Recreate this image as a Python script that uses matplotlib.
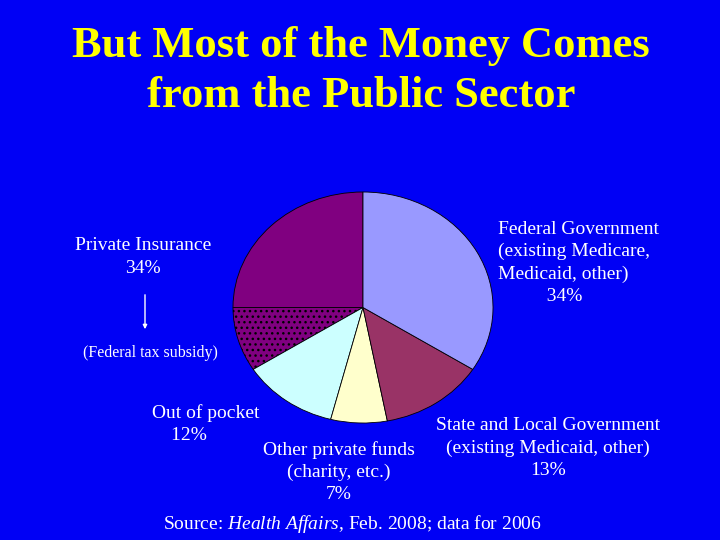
import matplotlib
matplotlib.use('Agg')
import matplotlib.pyplot as plt

# Slices, counterclockwise from 12 o'clock
slice_names = ['Private insurance', 'Federal tax subsidy', 'Out of pocket',
               'Other private funds', 'State and Local', 'Federal']
slice_values = [25, 9, 12, 7, 13, 34]
slice_colors = ['#800080', '#800080', '#CCFFFF', '#FFFFCC', '#993366', '#9999FF']
slice_hatches = ['', '...', '', '', '', '']

W, H = 720, 540
bg = '#0000F5'
fig = plt.figure(figsize=(7.2, 5.4), dpi=100, facecolor=bg)
plt.rcParams['font.family'] = ['Liberation Serif', 'DejaVu Serif']
plt.rcParams['mathtext.fontset'] = 'custom'
plt.rcParams['mathtext.it'] = 'Liberation Serif:italic'
plt.rcParams['mathtext.rm'] = 'Liberation Serif'
plt.rcParams['hatch.color'] = '#DDDDDD'
plt.rcParams['hatch.linewidth'] = 1.0

ax = fig.add_axes([233 / W, (H - 423) / H, 260 / W, 231 / H])
wedges, _ = ax.pie(slice_values, colors=slice_colors, startangle=90, counterclock=True,
                   wedgeprops=dict(edgecolor='black', linewidth=0.6))
for w, h in zip(wedges, slice_hatches):
    w.set_hatch(h)
ax.set_aspect('auto')
ax.set_xlim(-1, 1)
ax.set_ylim(-1, 1)
ax.axis('off')

def px(x, y, s, **kw):
    fig.text(x / W, 1 - y / H, s, **kw)

px(361, 71, 'But Most of the Money Comes\nfrom the Public Sector', color='#FFFF00',
   fontsize=32, fontweight='bold', ha='center', va='center', linespacing=1.3)

lab = dict(color='white', fontsize=14, va='center', linespacing=1.4)
px(143, 257, 'Private Insurance\n34%', ha='center', **lab)
px(498, 263, 'Federal Government\n(existing Medicare,\nMedicaid, other)\n          34%', ha='left', **lab)
px(150, 353, '(Federal tax subsidy)', ha='center', color='white', fontsize=11.5, va='center')
px(206, 424, 'Out of pocket\n12%       ', ha='center', **lab)
px(339, 472, 'Other private funds\n(charity, etc.)\n7%', ha='center', **lab)
px(548, 448, 'State and Local Government\n(existing Medicaid, other)\n13%', ha='center', **lab)
px(352, 524, 'Source: $\\it{Health\\ Affairs}$, Feb. 2008; data for 2006', ha='center',
   color='white', fontsize=14, va='center')

fig.add_artist(matplotlib.patches.FancyArrowPatch((145 / W, 1 - 292 / H), (145 / W, 1 - 332 / H),
               transform=fig.transFigure, arrowstyle='-|>', mutation_scale=6,
               color='white', linewidth=1))

fig.savefig('out.png', dpi=100, facecolor=bg)
